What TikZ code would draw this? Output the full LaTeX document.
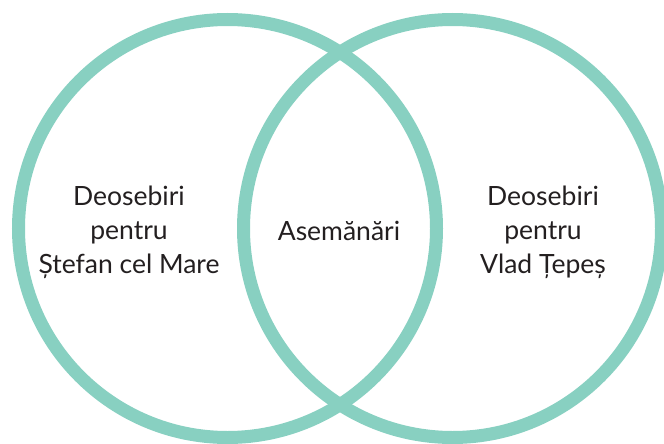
\documentclass[tikz,border=0pt]{standalone}
\usepackage{fontspec}
\setmainfont{Lato}
\definecolor{vennteal}{HTML}{88D0C1}
\definecolor{txt}{HTML}{231F20}
\begin{document}
\begin{tikzpicture}[x=1pt,y=-1pt,
  ring/.style={draw=vennteal,line width=13pt},
  lbl/.style={align=center,text=txt,font=\fontsize{26.5}{34}\selectfont,inner sep=0pt}]
\useasboundingbox (0,0) rectangle (664,444);
\begin{scope}
\clip (0,0) rectangle (664,444);
\draw[ring] (227.5,228.5) coordinate (cl) circle[radius=209];
\draw[ring] (452.5,228.5) coordinate (cr) circle[radius=209];
\end{scope}
\node[lbl] (left) at (129,232) {Deosebiri\\pentru\\Ștefan cel Mare};
\node[lbl] (mid) at (339,231) {Asemănări};
\node[lbl] (right) at (543,232) {Deosebiri\\pentru\\Vlad Țepeș};
\end{tikzpicture}
\end{document}
